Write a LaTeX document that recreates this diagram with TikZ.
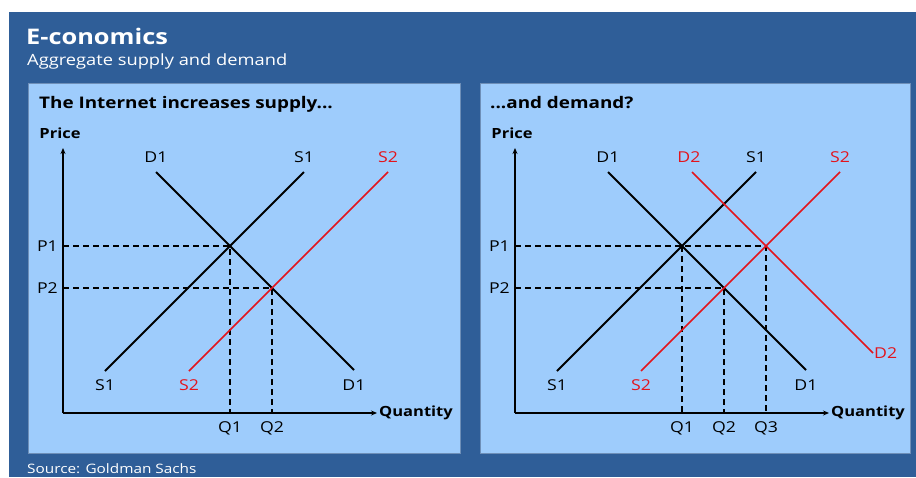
\documentclass[tikz,border=0pt]{standalone}
\usepackage{fontspec}
\setmainfont{Open Sans}[FakeStretch=1.18]
\usetikzlibrary{arrows.meta}
\definecolor{bgblue}{HTML}{2F5E98}
\definecolor{panelblue}{HTML}{9ECCFC}
\definecolor{paneledge}{HTML}{6E8FB8}
\definecolor{redink}{HTML}{E3141C}
\tikzset{
  panelbox/.style={fill=panelblue, draw=paneledge, line width=0.8pt},
  axisline/.style={line width=1.8pt, -{Stealth[length=6pt,width=5pt]}},
  curveblack/.style={line width=1.8pt, black},
  curvered/.style={line width=1.6pt, redink},
  guide/.style={line width=1.6pt, dash pattern=on 6pt off 4pt},
  lbl/.style={font=\fontsize{15}{15}\selectfont, inner sep=0pt},
  redlbl/.style={lbl, text=redink},
  axlbl/.style={font=\fontsize{14}{15}\selectfont\bfseries, inner sep=0pt},
}
\begin{document}
\begin{tikzpicture}[x=1pt,y=-1pt]
\useasboundingbox (0,0) rectangle (916,477);
\fill[white] (0,0) rectangle (916,477);
\fill[bgblue] (9,12) rectangle (916,477);
% titles
\node[anchor=base west, inner sep=0pt, text=white, font=\fontsize{21.5}{22}\selectfont\bfseries] (title) at (26,44) {E-conomics};
\node[anchor=base west, inner sep=0pt, text=white, font=\fontsize{15.5}{16}\selectfont] (subtitle) at (27,65) {Aggregate supply and demand};
\node[anchor=base west, inner sep=0pt, text=white, font=\fontsize{13}{13}\selectfont] (source) at (27,473) {Source: Goldman Sachs};
% panels
\draw[panelbox] (28,83) rectangle (460,453);
\draw[panelbox] (480,83) rectangle (910,453);
\node[anchor=base west, inner sep=0pt, font=\fontsize{16}{16}\selectfont\bfseries] (ltitle) at (39,108) {The Internet increases supply...};
\node[anchor=base west, inner sep=0pt, font=\fontsize{16}{16}\selectfont\bfseries] (rtitle) at (490,108) {...and demand?};

% ---------- left chart ----------
\coordinate (LO) at (63,413);
\coordinate (LYt) at (63,148);
\coordinate (LXe) at (377,413);
\coordinate (LD1a) at (156,172); \coordinate (LD1b) at (354,370);
\coordinate (LS1a) at (105,371); \coordinate (LS1b) at (304,172);
\coordinate (LS2a) at (189,371); \coordinate (LS2b) at (388,172);
\coordinate (LP1) at (230,246);
\coordinate (LP2) at (272,288);
\coordinate (LP1y) at (LO |- LP1); \coordinate (LP1x) at (LP1 |- LO);
\coordinate (LP2y) at (LO |- LP2); \coordinate (LP2x) at (LP2 |- LO);
\draw[guide] (LP1y) -- (LP1) -- (LP1x);
\draw[guide] (LP2y) -- (LP2) -- (LP2x);
\draw[curveblack] (LD1a) -- (LD1b);
\draw[curveblack] (LS1a) -- (LS1b);
\draw[curvered] (LS2a) -- (LS2b);
\draw[axisline] (LO) -- (LYt);
\draw[axisline] (LO) -- (LXe);
\node[axlbl] (Lprice) at (60,133) {Price};
\node[axlbl, anchor=west] (Lqty) at (379,413) {Quantity};
\node[lbl, anchor=east] (LP1l) at ([xshift=-5pt]LP1y) {P1};
\node[lbl, anchor=east] (LP2l) at ([xshift=-5pt]LP2y) {P2};
\node[lbl] (LQ1) at ([yshift=-15pt]LP1x) {Q1};
\node[lbl] (LQ2) at ([yshift=-15pt]LP2x) {Q2};
\node[lbl] (LD1t) at ([yshift=15pt]LD1a) {D1};
\node[lbl] (LS1t) at ([yshift=15pt]LS1b) {S1};
\node[redlbl] (LS2t) at ([yshift=15pt]LS2b) {S2};
\node[lbl] (LS1l) at ([yshift=-14pt]LS1a) {S1};
\node[redlbl] (LS2l) at ([yshift=-14pt]LS2a) {S2};
\node[lbl] (LD1l) at ([yshift=-15pt]LD1b) {D1};

% ---------- right chart ----------
\coordinate (RO) at (515,413);
\coordinate (RYt) at (515,148);
\coordinate (RXe) at (829,413);
\coordinate (RD1a) at (608,172); \coordinate (RD1b) at (806,370);
\coordinate (RS1a) at (557,371); \coordinate (RS1b) at (756,172);
\coordinate (RS2a) at (641,371); \coordinate (RS2b) at (840,172);
\coordinate (RD2a) at (692,172); \coordinate (RD2b) at (873,353);
\coordinate (RP1) at (682,246);
\coordinate (RP2) at (724,288);
\coordinate (RP3) at (766,246);
\coordinate (RP1y) at (RO |- RP1); \coordinate (RP1x) at (RP1 |- RO);
\coordinate (RP2y) at (RO |- RP2); \coordinate (RP2x) at (RP2 |- RO);
\coordinate (RP3x) at (RP3 |- RO);
\draw[guide] (RP1y) -- (RP3) -- (RP3x);
\draw[guide] (RP1) -- (RP1x);
\draw[guide] (RP2y) -- (RP2) -- (RP2x);
\draw[curveblack] (RD1a) -- (RD1b);
\draw[curveblack] (RS1a) -- (RS1b);
\draw[curvered] (RS2a) -- (RS2b);
\draw[curvered] (RD2a) -- (RD2b);
\draw[axisline] (RO) -- (RYt);
\draw[axisline] (RO) -- (RXe);
\node[axlbl] (Rprice) at (512,133) {Price};
\node[axlbl, anchor=west] (Rqty) at (831,413) {Quantity};
\node[lbl, anchor=east] (RP1l) at ([xshift=-5pt]RP1y) {P1};
\node[lbl, anchor=east] (RP2l) at ([xshift=-5pt]RP2y) {P2};
\node[lbl] (RQ1) at ([yshift=-15pt]RP1x) {Q1};
\node[lbl] (RQ2) at ([yshift=-15pt]RP2x) {Q2};
\node[lbl] (RQ3) at ([yshift=-15pt]RP3x) {Q3};
\node[lbl] (RD1t) at ([yshift=15pt]RD1a) {D1};
\node[redlbl] (RD2t) at ([yshift=15pt,xshift=-3pt]RD2a) {D2};
\node[lbl] (RS1t) at ([yshift=15pt]RS1b) {S1};
\node[redlbl] (RS2t) at ([yshift=15pt]RS2b) {S2};
\node[lbl] (RS1l) at ([yshift=-14pt]RS1a) {S1};
\node[redlbl] (RS2l) at ([yshift=-14pt]RS2a) {S2};
\node[lbl] (RD1l) at ([yshift=-15pt]RD1b) {D1};
\node[redlbl, anchor=west] (RD2l) at ([xshift=1pt]RD2b) {D2};
\end{tikzpicture}
\end{document}
